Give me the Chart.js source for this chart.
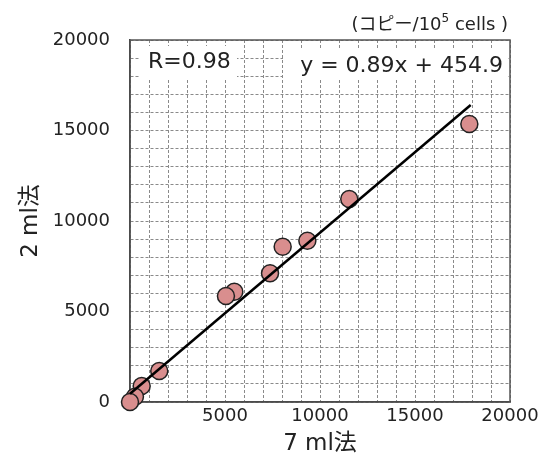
<!DOCTYPE html>
<html>
<head>
<meta charset="utf-8">
<script src="https://cdn.jsdelivr.net/npm/chart.js@4"></script>
<style>
  body { margin: 0; background: #fff; }
  #wrap { width: 549px; height: 464px; }
</style>
</head>
<body>
<div id="wrap"><canvas id="scatterChart"></canvas></div>
<script>
// valeurs (copies / 10^5 cells)
const x7ml = [11540, 17860, 9335, 8035, 7370, 5490, 5050, 1540, 615, 260, 0];
const y2ml = [11215, 15360, 8910, 8580, 7110, 6090, 5860, 1710, 884, 293, 0];
// droite de régression y = 0.89x + 454.9
const fitX = [0, 17930];
const fitY = [455, 16410];
const xTicks = [5000, 10000, 15000, 20000];
const yTicks = [0, 5000, 10000, 15000, 20000];

const FONT = "'DejaVu Sans', 'Noto Sans CJK JP', sans-serif";

const pts = x7ml.map((x, i) => ({ x: x, y: y2ml[i] }));
const fitPts = fitX.map((x, i) => ({ x: x, y: fitY[i] }));

// textes de la figure + cadre
const extras = {
  id: "extras",
  beforeDatasetsDraw(chart) {
    const { ctx, chartArea: a } = chart;
    ctx.save();
    // boîtes blanches derrière les annotations
    ctx.fillStyle = "#fff";
    ctx.fillRect(140, 46, 97, 33);
    ctx.fillRect(283, 50, 225, 30);
    ctx.font = "22px " + FONT;
    ctx.fillStyle = "#222";
    ctx.textBaseline = "middle";
    ctx.textAlign = "left";
    ctx.fillText("R=0.98", 148, 62);
    ctx.textAlign = "right";
    ctx.fillText("y = 0.89x + 454.9", 503, 66);
    // cadre
    ctx.strokeStyle = "#555";
    ctx.lineWidth = 1.5;
    ctx.strokeRect(a.left, a.top, a.right - a.left, a.bottom - a.top);
    ctx.restore();
  },
  afterDraw(chart) {
    const { ctx } = chart;
    ctx.save();
    ctx.fillStyle = "#222";
    ctx.textBaseline = "alphabetic";
    ctx.textAlign = "left";
    const p1 = "(コピー/10", p2 = "5", p3 = " cells )";
    ctx.font = "18px " + FONT;
    const w1 = ctx.measureText(p1).width, w3 = ctx.measureText(p3).width;
    ctx.font = "12px " + FONT;
    const w2 = ctx.measureText(p2).width;
    let x = 508 - (w1 + w2 + w3);
    ctx.font = "18px " + FONT;
    ctx.fillText(p1, x, 30);
    x += w1;
    ctx.font = "12px " + FONT;
    ctx.fillText(p2, x, 22);
    x += w2;
    ctx.font = "18px " + FONT;
    ctx.fillText(p3, x, 30);
    ctx.restore();
  }
};

const ctx = document.getElementById("scatterChart").getContext("2d");
new Chart(ctx, {
  type: "scatter",
  data: {
    datasets: [
      {
        type: "line",
        data: fitPts,
        borderColor: "#000",
        borderWidth: 2.5,
        pointRadius: 0,
        fill: false,
        clip: false,
        order: 0
      },
      {
        data: pts,
        backgroundColor: "#d98e8e",
        borderColor: "#222",
        borderWidth: 1.5,
        pointRadius: 8.5,
        pointHoverRadius: 8.5,
        clip: false,
        order: 1
      }
    ]
  },
  options: {
    responsive: true,
    maintainAspectRatio: false,
    animation: false,
    layout: { padding: { top: 40, right: 39, left: 0, bottom: 0 } },
    plugins: {
      legend: { display: false },
      tooltip: { enabled: false }
    },
    scales: {
      x: {
        type: "linear",
        min: 0,
        max: 20000,
        afterFit: (s) => { s.height = 62; },
        afterBuildTicks: (s) => {
          s.ticks = [];
          for (let v = 0; v <= 20000; v += 1000) s.ticks.push({ value: v });
        },
        ticks: {
          autoSkip: false,
          maxRotation: 0,
          padding: 4,
          color: "#222",
          font: { family: FONT, size: 18 },
          callback: (v) => xTicks.includes(v) ? String(v) : ""
        },
        grid: {
          color: "#8a8a8a",
          lineWidth: 1,
          drawTicks: false
        },
        border: { display: true, color: "#333", width: 1.5, dash: [3, 2] },
        title: {
          display: true,
          text: "7 ml法",
          color: "#222",
          font: { family: FONT, size: 23 },
          padding: { top: 0, bottom: 6 }
        }
      },
      y: {
        type: "linear",
        min: 0,
        max: 20000,
        afterFit: (s) => { s.width = 130; },
        afterBuildTicks: (s) => {
          s.ticks = [];
          for (let v = 0; v <= 20000; v += 1000) s.ticks.push({ value: v });
        },
        ticks: {
          autoSkip: false,
          padding: 20,
          color: "#222",
          font: { family: FONT, size: 18 },
          callback: (v) => yTicks.includes(v) ? String(v) : ""
        },
        grid: {
          color: "#8a8a8a",
          lineWidth: 1,
          drawTicks: false
        },
        border: { display: true, color: "#333", width: 1.5, dash: [3, 2] },
        title: {
          display: true,
          text: "2 ml法",
          color: "#222",
          font: { family: FONT, size: 23 },
          padding: { top: 17, bottom: 0 }
        }
      }
    }
  },
  plugins: [extras]
});
</script>
</body>
</html>
